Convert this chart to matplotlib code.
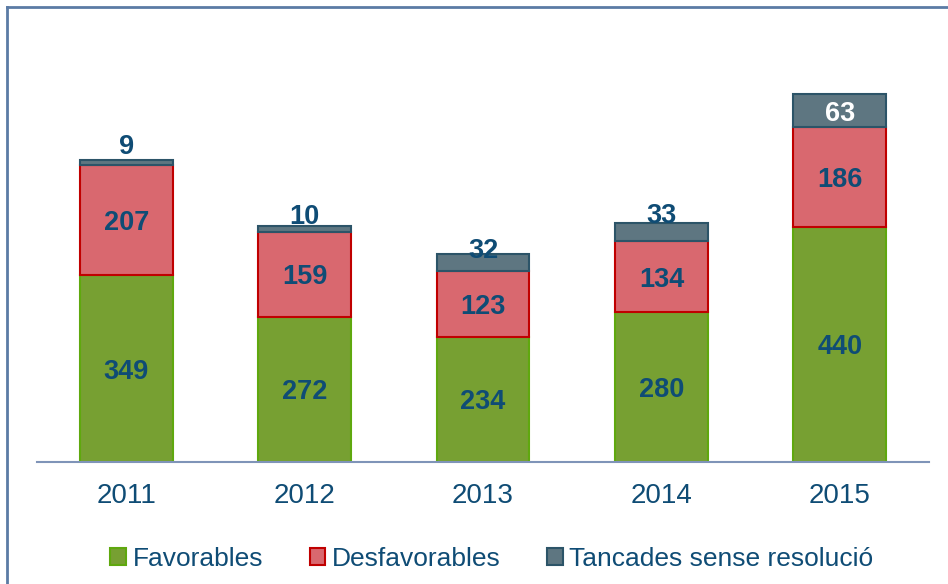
import matplotlib.pyplot as plt
from matplotlib.lines import Line2D
from matplotlib.patches import Patch

years = ['2011', '2012', '2013', '2014', '2015']
favorables = [349, 272, 234, 280, 440]
desfavorables = [207, 159, 123, 134, 186]
sense_resolucio = [9, 10, 32, 33, 63]
series_names = ['Favorables', 'Desfavorables', 'Tancades sense resolució']

# label offsets (pixels above the bar top) for the small grey segments
top_label_offset = [16, 12, 6, 10]

fills = ['#77A032', '#D9686F', '#5E7681']
edges = ['#5FA80E', '#C00000', '#2C5468']
text_blue = '#0F4C75'

plt.rcParams['font.family'] = ['Liberation Sans', 'DejaVu Sans']

fig = plt.figure(figsize=(9.48, 5.84), dpi=100)
W, H = 948, 584
ax = fig.add_axes([37 / W, (H - 462) / H, (929 - 37) / W, (462 - 34.4) / H])

x = range(len(years))
width = 0.52
bottoms2 = favorables
bottoms3 = [a + b for a, b in zip(favorables, desfavorables)]

ax.bar(x, favorables, width, color=fills[0], edgecolor=edges[0], linewidth=1.5)
ax.bar(x, desfavorables, width, bottom=bottoms2, color=fills[1], edgecolor=edges[1], linewidth=1.5)
ax.bar(x, sense_resolucio, width, bottom=bottoms3, color=fills[2], edgecolor=edges[2], linewidth=1.5)

ax.set_xlim(-0.5, 4.5)
ax.set_ylim(0, 800)

lab = dict(ha='center', va='center_baseline', fontsize=19.5, fontweight='bold')
for i in x:
    ax.text(i, favorables[i] / 2, str(favorables[i]), color=text_blue, **lab)
    ax.text(i, bottoms2[i] + desfavorables[i] / 2, str(desfavorables[i]), color=text_blue, **lab)
    top = bottoms3[i] + sense_resolucio[i]
    if i < len(top_label_offset):
        ax.annotate(str(sense_resolucio[i]), (i, top), xytext=(0, top_label_offset[i] * 0.72),
                    textcoords='offset points', color=text_blue, **lab)
    else:
        ax.text(i, bottoms3[i] + sense_resolucio[i] / 2, str(sense_resolucio[i]), color='white', **lab)

for s in ['top', 'right', 'left']:
    ax.spines[s].set_visible(False)
ax.spines['bottom'].set_color('#7F94B8')
ax.spines['bottom'].set_linewidth(1.5)
ax.set_yticks([])
ax.set_xticks(list(x))
ax.set_xticklabels(years, fontsize=20, color=text_blue)
ax.tick_params(axis='x', length=0, pad=15)

handles = [Patch(facecolor=f, edgecolor=e, linewidth=1.5) for f, e in zip(fills, edges)]
fig.legend(handles, series_names, loc='center', bbox_to_anchor=(492 / W, (H - 559) / H),
           ncol=3, frameon=False, fontsize=19, labelcolor=text_blue,
           handlelength=0.6, handleheight=0.6, handletextpad=0.25, columnspacing=1.75)

# outer frame (top and left edges visible)
fig.add_artist(Line2D([6.5 / W, 1], [(H - 6.5) / H] * 2, color='#5B7BA5', linewidth=2))
fig.add_artist(Line2D([6.5 / W] * 2, [0, (H - 6.5) / H], color='#5B7BA5', linewidth=2))

fig.savefig('out.png', dpi=100)
